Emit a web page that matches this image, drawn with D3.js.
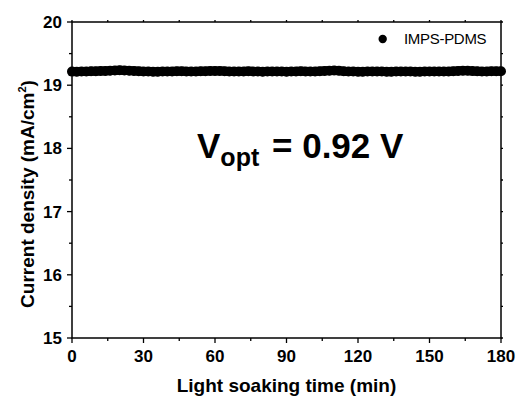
<!DOCTYPE html>
<html>
<head>
<meta charset="utf-8">
<script src="https://cdn.jsdelivr.net/npm/d3@7"></script>
<style>
  body { margin: 0; background: #fff; }
  svg { display: block; font-family: "Liberation Sans", Arial, sans-serif; }
</style>
</head>
<body>
<svg id="chart" width="518" height="399"></svg>
<script>
// light soaking time (min), one reading every 2 min
const times = d3.range(0, 181, 2);
// current density (mA/cm2)
const current = [
  19.215, 19.214, 19.216, 19.218, 19.220, 19.222, 19.224, 19.226, 19.230, 19.234,
  19.236, 19.234, 19.230, 19.226, 19.222, 19.218, 19.216, 19.214, 19.214, 19.216,
  19.218, 19.218, 19.220, 19.220, 19.218, 19.216, 19.218, 19.220, 19.222, 19.224,
  19.226, 19.226, 19.222, 19.218, 19.216, 19.216, 19.218, 19.220, 19.218, 19.216,
  19.214, 19.216, 19.218, 19.218, 19.216, 19.214, 19.216, 19.218, 19.220, 19.218,
  19.216, 19.218, 19.222, 19.226, 19.230, 19.232, 19.228, 19.222, 19.218, 19.216,
  19.214, 19.214, 19.216, 19.218, 19.218, 19.216, 19.214, 19.214, 19.216, 19.218,
  19.218, 19.216, 19.214, 19.214, 19.216, 19.218, 19.218, 19.216, 19.216, 19.218,
  19.222, 19.226, 19.230, 19.228, 19.224, 19.220, 19.218, 19.218, 19.220, 19.220,
  19.220
];
const xTicks = [0, 30, 60, 90, 120, 150, 180];
const yTicks = [15, 16, 17, 18, 19, 20];
const seriesName = 'IMPS-PDMS';

const svg = d3.select('#chart');
const margin = { top: 22, right: 17, bottom: 61, left: 72 };
const width = 518 - margin.left - margin.right;
const height = 399 - margin.top - margin.bottom;

const x = d3.scaleLinear().domain([0, 180]).range([0, width]);
const y = d3.scaleLinear().domain([15, 20]).range([height, 0]);

const g = svg.append('g').attr('transform', `translate(${margin.left},${margin.top})`);

// data band: dense markers joined by a thick line
const line = d3.line().x(d => x(d)).y((d, i) => y(current[i])).curve(d3.curveMonotoneX);
g.append('path')
  .datum(times)
  .attr('d', line)
  .attr('fill', 'none')
  .attr('stroke', '#000')
  .attr('stroke-width', 9);

g.append('g')
  .selectAll('circle')
  .data(times)
  .enter()
  .append('circle')
  .attr('cx', d => x(d))
  .attr('cy', (d, i) => y(current[i]))
  .attr('r', 5)
  .attr('fill', '#000');

// frame
g.append('rect')
  .attr('width', width)
  .attr('height', height)
  .attr('fill', 'none')
  .attr('stroke', '#000')
  .attr('stroke-width', 1.5);

const xMinor = d3.range(15, 180, 30);
const yMinor = d3.range(15.5, 20, 1);

function ticksX(vals, len, yPos) {
  g.selectAll('none').data(vals).enter().append('line')
    .attr('x1', d => x(d)).attr('x2', d => x(d))
    .attr('y1', yPos).attr('y2', yPos + len)
    .attr('stroke', '#000').attr('stroke-width', 1.3);
}
function ticksY(vals, len, xPos) {
  g.selectAll('none').data(vals).enter().append('line')
    .attr('y1', d => y(d)).attr('y2', d => y(d))
    .attr('x1', xPos).attr('x2', xPos + len)
    .attr('stroke', '#000').attr('stroke-width', 1.3);
}
ticksX(xTicks, 5, height);
ticksX(xMinor, 3, height);
ticksX(xTicks.concat(xMinor), -2, 0);
ticksY(yTicks, -5, 0);
ticksY(yMinor, -3, 0);
ticksY(yTicks.concat(yMinor), 2, width);

// tick labels
g.selectAll('none').data(xTicks).enter().append('text')
  .attr('x', d => x(d))
  .attr('y', height + 24)
  .attr('text-anchor', 'middle')
  .attr('font-size', 17)
  .attr('font-weight', 'bold')
  .text(d => d);

g.selectAll('none').data(yTicks).enter().append('text')
  .attr('x', -10)
  .attr('y', d => y(d) + 6)
  .attr('text-anchor', 'end')
  .attr('font-size', 17)
  .attr('font-weight', 'bold')
  .text(d => d);

// axis titles
svg.append('text')
  .attr('x', margin.left + width / 2)
  .attr('y', 392)
  .attr('text-anchor', 'middle')
  .attr('font-size', 19)
  .attr('font-weight', 'bold')
  .text('Light soaking time (min)');

const yTitle = svg.append('text')
  .attr('transform', 'translate(34,194) rotate(-90)')
  .attr('text-anchor', 'middle')
  .attr('font-size', 19)
  .attr('font-weight', 'bold');
yTitle.append('tspan').text('Current density (mA/cm');
yTitle.append('tspan').attr('font-size', 11).attr('dy', -8).text('2');
yTitle.append('tspan').attr('dy', 8).text(')');

// legend
g.append('circle').attr('cx', 382.7 - margin.left).attr('cy', 39 - margin.top).attr('r', 4.2).attr('fill', '#000');
g.append('text')
  .attr('x', 404 - margin.left)
  .attr('y', 44 - margin.top)
  .attr('font-size', 15)
  .attr('letter-spacing', -0.3)
  .text(seriesName);

// annotation
const ann = svg.append('text')
  .attr('x', 197)
  .attr('y', 158)
  .attr('font-weight', 'bold')
  .attr('font-size', 35);
ann.append('tspan').text('V');
ann.append('tspan').attr('font-size', 25).attr('dy', 8).text('opt');
svg.append('text')
  .attr('x', 272)
  .attr('y', 158)
  .attr('font-weight', 'bold')
  .attr('font-size', 35)
  .attr('xml:space', 'preserve')
  .text('= 0.92 V');
</script>
</body>
</html>
